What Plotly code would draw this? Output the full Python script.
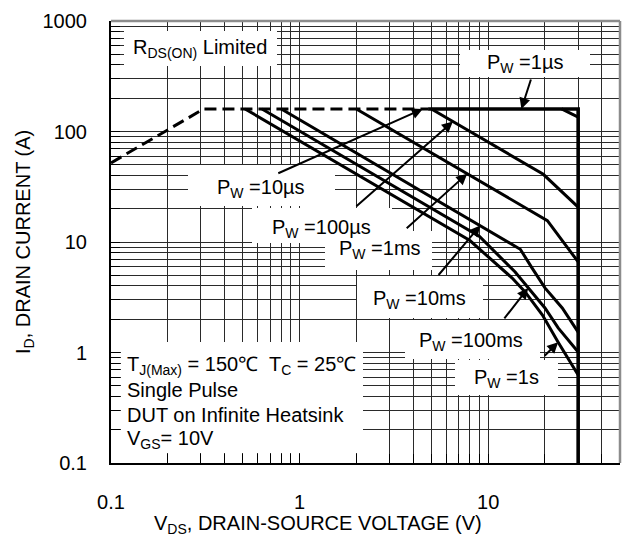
import numpy as np
import plotly.graph_objects as go

# ---------------- data ----------------
rds_v = [0.1, 0.31, 4.8]
rds_i = [52, 160, 160]

pw_1us_v = [4.8, 30, 30]
pw_1us_i = [160, 160, 0.1]

pw_10us_v = [24.5, 30]
pw_10us_i = [160, 135]

pw_100us_v = [5.0, 19.6, 30]
pw_100us_i = [160, 41, 20.7]

pw_1ms_v = [2.0, 20.6, 30]
pw_1ms_i = [160, 15.6, 6.6]

pw_10ms_v = [0.80, 14.8, 17.1, 20.0, 24.7, 30]
pw_10ms_i = [160, 8.6, 5.8, 3.84, 2.53, 1.53]

pw_100ms_v = [0.632, 9.0, 13.9, 16.3, 20.0, 23.5, 30]
pw_100ms_i = [160, 11.2, 5.35, 3.84, 2.53, 1.67, 1.01]

pw_1s_v = [0.514, 8.0, 13.4, 15.7, 19.4, 23.5, 30]
pw_1s_i = [160, 10.3, 4.72, 3.53, 2.18, 1.24, 0.625]

x_tick_vals = [0.1, 1, 10]
x_tick_text = ["0.1", "1", "10"]
y_tick_vals = [0.1, 1, 10, 100, 1000]
y_tick_text = ["0.1", "1", "10", "100", "1000"]

# labels: text, arrow head (V, I)
pw_labels = ["P<sub>W</sub> =1µs", "P<sub>W</sub> =10µs", "P<sub>W</sub> =100µs",
             "P<sub>W</sub> =1ms", "P<sub>W</sub> =10ms", "P<sub>W</sub> =100ms",
             "P<sub>W</sub> =1s"]
head_v = [15, 4.5, 6.5, 7.74, 9.08, 16.3, 23.5]
head_i = [160, 160, 123, 41.5, 14.1, 3.84, 1.24]

cond_lines = ["T<sub>J(Max)</sub> = 150℃  T<sub>C</sub> = 25℃",
              "Single Pulse",
              "DUT on Infinite Heatsink",
              "V<sub>GS</sub>= 10V"]

# ---------------- layout geometry ----------------
W, H = 629, 538
L, R, T, B = 111, 9, 21, 75
PW, PH = W - L - R, H - T - B
FONT = "Arial, Liberation Sans, sans-serif"


def px(xp):
    return (xp - L) / PW


def py(yp):
    return (H - B - yp) / PH


fig = go.Figure()

fig.add_trace(go.Scatter(x=rds_v, y=rds_i, mode="lines",
                         line=dict(color="black", width=3, dash="12px,6px")))
fig.add_trace(go.Scatter(x=pw_1us_v, y=pw_1us_i, mode="lines",
                         line=dict(color="black", width=3.6)))
for vv, ii in [(pw_10us_v, pw_10us_i), (pw_100us_v, pw_100us_i),
               (pw_1ms_v, pw_1ms_i), (pw_10ms_v, pw_10ms_i),
               (pw_100ms_v, pw_100ms_i), (pw_1s_v, pw_1s_i)]:
    fig.add_trace(go.Scatter(x=vv, y=ii, mode="lines",
                             line=dict(color="black", width=3)))

# white label boxes (cover the grid; placed where no curve passes)
boxes = [
    (124, 31, 277, 66),     # RDS(ON)
    (460, 50, 590, 77),     # 1us
    (188, 165, 335, 206),   # 10us
    (252, 208, 392, 243),   # 100us
    (325, 231, 432, 270),   # 1ms
    (357, 276, 483, 318),   # 10ms
    (405, 320, 540, 359),   # 100ms
    (455, 360, 558, 395),   # 1s
    (121, 342, 363, 453),   # conditions
]
for x0, y0, x1, y1 in boxes:
    fig.add_shape(type="rect", xref="paper", yref="paper",
                  x0=px(x0), x1=px(x1), y0=py(y1), y1=py(y0),
                  fillcolor="white", line=dict(width=0), layer="above")

# top / right gray frame
fig.add_shape(type="line", xref="paper", yref="paper", x0=0, x1=1, y0=1, y1=1,
              line=dict(color="#8c8c8c", width=2.5), layer="above")
fig.add_shape(type="line", xref="paper", yref="paper", x0=1, x1=1, y0=0, y1=1,
              line=dict(color="#8c8c8c", width=2.5), layer="above")

tf = dict(family=FONT, size=20, color="black")

# text labels
label_pos = [(525, 63), (261, 188), (321, 228), (380, 250),
             (419, 299), (471, 341), (506, 378)]
for txt, (lx, ly) in zip(pw_labels, label_pos):
    fig.add_annotation(xref="paper", yref="paper", x=px(lx), y=py(ly),
                       text=txt, showarrow=False, font=tf,
                       xanchor="center", yanchor="middle")

fig.add_annotation(xref="paper", yref="paper", x=px(200), y=py(48),
                   text="R<sub>DS(ON)</sub> Limited", showarrow=False, font=tf,
                   xanchor="center", yanchor="middle")

for k, line in enumerate(cond_lines):
    fig.add_annotation(xref="paper", yref="paper", x=px(125), y=py(365 + 24.8 * k),
                       text=line, showarrow=False, font=tf,
                       xanchor="left", yanchor="middle")

# arrows (tail offsets in pixels)
tails = [(10, -31), (-146, 65), (-98, 86), (-62, 56), (-43, 51), (-25, 32), (-15, 15)]
for hv, hi, (ax, ay) in zip(head_v, head_i, tails):
    fig.add_annotation(x=np.log10(hv), y=np.log10(hi), xref="x", yref="y",
                       ax=ax, ay=ay, text="", showarrow=True,
                       arrowhead=2, arrowsize=1.1, arrowwidth=2, arrowcolor="black")

# axis titles
fig.add_annotation(xref="paper", yref="paper", x=px(24), y=py(242),
                   text="I<sub>D</sub>, DRAIN CURRENT (A)", showarrow=False,
                   textangle=-90, font=tf, xanchor="center", yanchor="middle")
fig.add_annotation(xref="paper", yref="paper", x=px(318), y=py(524),
                   text="V<sub>DS</sub>, DRAIN-SOURCE VOLTAGE (V)", showarrow=False,
                   font=tf, xanchor="center", yanchor="middle")

minor_x = [m * 10.0 ** d for d in (-1, 0, 1) for m in range(2, 10) if m * 10.0 ** d <= 50]
minor_y = [m * 10.0 ** d for d in (-1, 0, 1, 2) for m in range(2, 10)]

grid_c = "#2a2a2a"
fig.update_xaxes(type="log", range=[-1, np.log10(50)], automargin=False,
                 tickmode="array", tickvals=x_tick_vals, ticktext=x_tick_text,
                 showgrid=True, gridcolor=grid_c, gridwidth=1,
                 ticks="inside", ticklen=9, tickcolor="black", tickwidth=1,
                 showline=True, linecolor="black", linewidth=2,
                 tickfont=tf, ticklabelstandoff=20, zeroline=False,
                 minor=dict(tickmode="array", tickvals=minor_x, showgrid=True,
                            gridcolor=grid_c, gridwidth=1, ticks="inside",
                            ticklen=9, tickcolor="black", tickwidth=1))
fig.update_yaxes(type="log", range=[-1, 3], automargin=False,
                 tickmode="array", tickvals=y_tick_vals, ticktext=y_tick_text,
                 showgrid=True, gridcolor=grid_c, gridwidth=1,
                 ticks="inside", ticklen=9, tickcolor="black", tickwidth=1,
                 showline=True, linecolor="black", linewidth=2,
                 tickfont=tf, ticklabelstandoff=18, zeroline=False,
                 minor=dict(tickmode="array", tickvals=minor_y, showgrid=True,
                            gridcolor=grid_c, gridwidth=1, ticks="inside",
                            ticklen=9, tickcolor="black", tickwidth=1))

fig.update_layout(width=W, height=H, margin=dict(l=L, r=R, t=T, b=B),
                  paper_bgcolor="white", plot_bgcolor="white",
                  showlegend=False, font=tf)

fig.write_html("out.html", config={"displayModeBar": False},
               post_script="document.body.style.margin='0';"
                           "document.body.style.padding='0';"
                           "document.body.style.overflow='hidden';")
